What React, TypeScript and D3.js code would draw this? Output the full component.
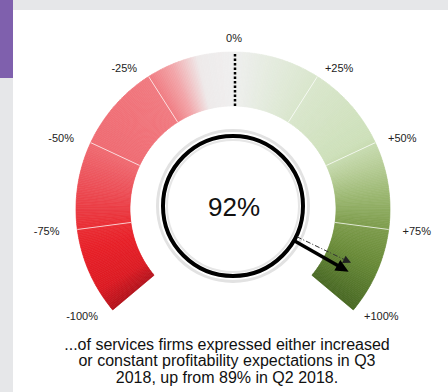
import React from "react";
import * as d3 from "d3";

// ---- data ----
const CURRENT_VALUE = 92;
const PREVIOUS_VALUE = 89;
const TICK_VALUES = [-100, -75, -50, -25, 0, 25, 50, 75, 100];
const TICK_LABELS = ["-100%", "-75%", "-50%", "-25%", "0%", "+25%", "+50%", "+75%", "+100%"];
const CENTER_LABEL = "92%";
const CAPTION_LINES = [
  "...of services firms expressed either increased",
  "or constant profitability expectations in Q3",
  "2018, up from 89% in Q2 2018.",
];

// ---- style ----
const COLOR_STOPS: [number, string][] = [
  [-100, "#b3121b"],
  [-93, "#dc1a22"],
  [-82, "#e71f27"],
  [-75, "#e92c33"],
  [-62, "#ec4f57"],
  [-50, "#ef6b72"],
  [-35, "#f07279"],
  [-25, "#f07a80"],
  [-18, "#f2a3a7"],
  [-10, "#eeeaea"],
  [0, "#efefef"],
  [12, "#e4ebde"],
  [25, "#d9e6cc"],
  [48, "#cde0b9"],
  [56, "#b8ce99"],
  [65, "#9bb771"],
  [75, "#7d9c4c"],
  [86, "#678937"],
  [100, "#486823"],
];

const W = 448;
const H = 392;
const CX = 233;
const CY = 209;
const R_OUT = 157;
const R_IN = 103;
const RING_CX = 233;
const RING_CY = 206;
const RING_R = 70;
const FONT = "'Liberation Sans', Arial, sans-serif";

export default function App() {
  const angle = d3.scaleLinear().domain([-100, 100]).range([(-130 * Math.PI) / 180, (130 * Math.PI) / 180]);
  const color = d3
    .scaleLinear<string>()
    .domain(COLOR_STOPS.map((d) => d[0]))
    .range(COLOR_STOPS.map((d) => d[1]))
    .interpolate(d3.interpolateRgb);

  const arc = d3.arc<any>();
  const step = 0.5;
  const slices = d3.range(-100, 100, step).map((v) => ({
    d: arc({
      innerRadius: R_IN,
      outerRadius: R_OUT,
      startAngle: angle(v),
      endAngle: angle(Math.min(v + step, 100)),
    }) as string,
    fill: color(v + step / 2),
  }));

  const pt = (a: number, r: number, cx = CX, cy = CY) => [cx + r * Math.sin(a), cy - r * Math.cos(a)];

  const separators = TICK_VALUES.filter((v) => Math.abs(v) !== 100 && v !== 0);

  const labelPos = (v: number) => {
    const a = angle(v);
    if (v === 0) {
      const [x, y] = pt(a, R_OUT + 13);
      return { x: x + 1, y: y + 3, anchor: "middle" };
    }
    const x = CX + (R_OUT + 14) * Math.sin(a) + (v < 0 ? -4 : 0);
    const y = CY - (R_OUT + 10) * Math.cos(a) + 3.9;
    return { x, y, anchor: v < 0 ? "end" : "start" };
  };

  const arrow = (value: number, r0: number, r1: number) => {
    const a = angle(value);
    const [x0, y0] = pt(a, r0, RING_CX, RING_CY);
    const [x1, y1] = pt(a, r1, RING_CX, RING_CY);
    return { x0, y0, x1, y1, a };
  };
  const solid = arrow(CURRENT_VALUE, RING_R + 1, 133);
  const dashed = arrow(PREVIOUS_VALUE, RING_R + 1, 131);

  const head = (tip: { x1: number; y1: number; a: number }, len: number, half: number) => {
    const ux = Math.sin(tip.a);
    const uy = -Math.cos(tip.a);
    const bx = tip.x1 - ux * len;
    const by = tip.y1 - uy * len;
    const px = -uy;
    const py = ux;
    return `M${tip.x1},${tip.y1}L${bx + px * half},${by + py * half}L${bx - px * half},${by - py * half}Z`;
  };

  const [dx0, dy0] = pt(0, R_IN);
  const [dx1, dy1] = pt(0, R_OUT);

  return (
    <svg width={W} height={H} style={{ position: "absolute", left: 0, top: 0 }}>
      <rect x={0} y={0} width={W} height={H} fill="#e6e7e9" />
      <rect x={13} y={10} width={W - 13} height={H - 10} fill="#ffffff" />
      <rect x={0} y={0} width={13} height={78} fill="#7f60ad" />

      <g transform={`translate(${CX},${CY})`}>
        {slices.map((s, i) => (
          <path key={i} d={s.d} fill={s.fill} stroke={s.fill} strokeWidth={0.7} strokeLinejoin="bevel" />
        ))}
      </g>
      {separators.map((v) => {
        const a = angle(v);
        const [x0, y0] = pt(a, R_IN);
        const [x1, y1] = pt(a, R_OUT);
        return <line key={v} x1={x0} y1={y0} x2={x1} y2={y1} stroke="#ffffff" strokeOpacity={0.75} strokeWidth={1} />;
      })}
      <line x1={dx0 + 2} y1={dy0} x2={dx1 + 2} y2={dy1} stroke="#000" strokeWidth={2.5} strokeDasharray="2.5 2" />

      {TICK_VALUES.map((v, i) => {
        const p = labelPos(v);
        return (
          <text key={v} x={p.x} y={p.y} textAnchor={p.anchor as any} fontFamily={FONT} fontSize={11} fill="#222">
            {TICK_LABELS[i]}
          </text>
        );
      })}

      {/* ring */}
      <circle cx={RING_CX} cy={RING_CY} r={RING_R + 5.5} fill="none" stroke="#e2e2e2" strokeWidth={3} />
      <circle cx={RING_CX} cy={RING_CY} r={RING_R - 4} fill="none" stroke="#e6e6e6" strokeWidth={2} />
      <circle cx={RING_CX} cy={RING_CY} r={RING_R} fill="none" stroke="#000" strokeWidth={4} />
      <text x={RING_CX + 1} y={216} textAnchor="middle" fontFamily={FONT} fontSize={26} fill="#111">
        {CENTER_LABEL}
      </text>

      {/* previous (dashed) needle */}
      <line
        x1={dashed.x0}
        y1={dashed.y0}
        x2={dashed.x1 - Math.sin(dashed.a) * 5}
        y2={dashed.y1 + Math.cos(dashed.a) * 5}
        stroke="#333"
        strokeWidth={1}
        strokeDasharray="5 2 1 2"
      />
      <path d={head(dashed, 8, 4)} fill="#222" />
      {/* current needle */}
      <line
        x1={solid.x0}
        y1={solid.y0}
        x2={solid.x1 - Math.sin(solid.a) * 8}
        y2={solid.y1 + Math.cos(solid.a) * 8}
        stroke="#000"
        strokeWidth={3.5}
      />
      <path d={head(solid, 13, 6)} fill="#000" />

      {CAPTION_LINES.map((line, i) => (
        <text key={i} x={227} y={350 + i * 16.3} textAnchor="middle" fontFamily={FONT} fontSize={16} fill="#111">
          {line}
        </text>
      ))}
    </svg>
  );
}
